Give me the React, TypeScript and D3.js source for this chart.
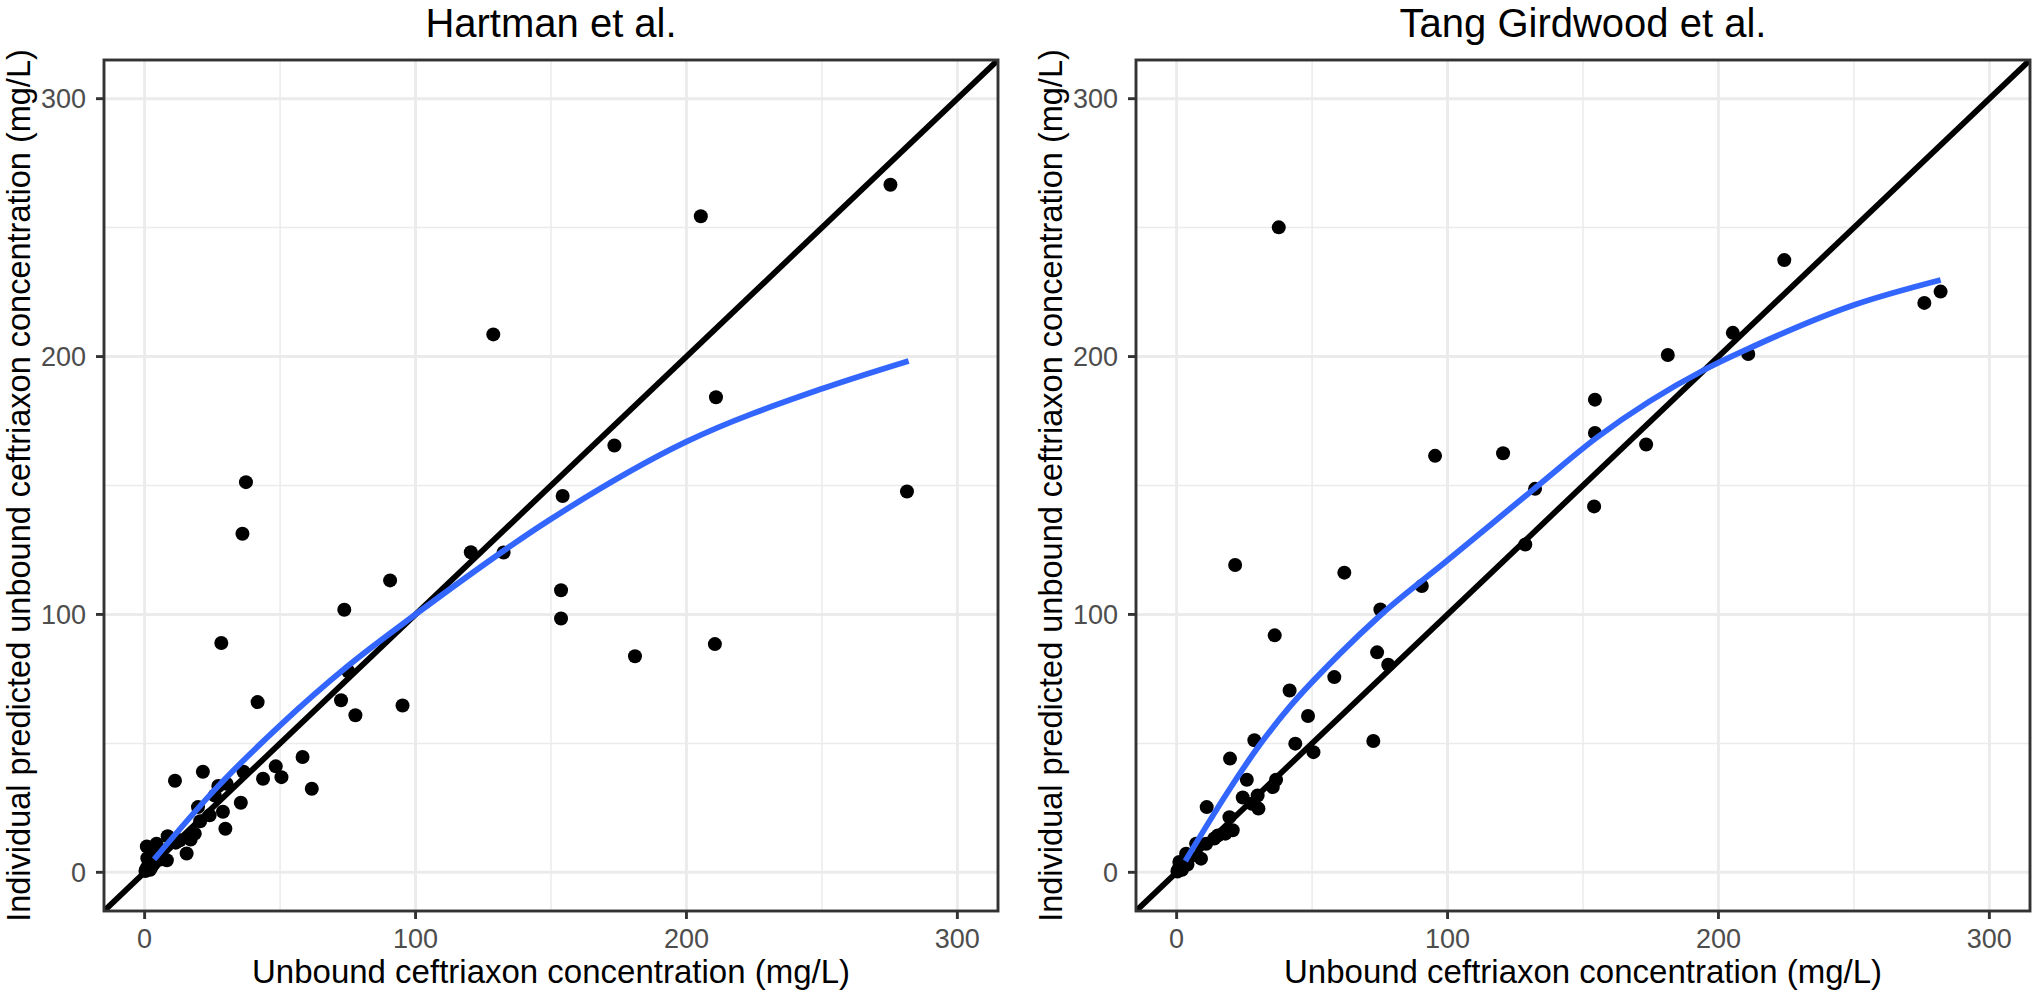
import React from 'react';
import * as d3 from 'd3';

// ---------- data ----------
const majorTicks = [0, 100, 200, 300];
const minorTicks = [50, 150, 250];
const titles = ['Hartman et al.', 'Tang Girdwood et al.'];
const xTitle = 'Unbound ceftriaxon concentration (mg/L)';
const yTitle = 'Individual predicted unbound ceftriaxon concentration (mg/L)';

const hartmanObserved = [
  275.3, 205.3, 128.7, 210.9, 173.4, 281.4, 154.3, 37.4, 36.1, 120.4, 132.5, 90.6, 153.7, 153.7,
  73.7, 75.2, 72.5, 77.8, 28.3, 41.7, 95.2, 181, 210.5,
  11.2, 21.5, 36.5, 43.7, 48.4, 50.5, 58.3, 61.7, 35.5, 29.8, 28.9, 24, 25.9, 27.2, 30.3, 19.7,
  20.5, 18.5, 17, 15.5, 13, 11.5, 8.5, 8.2, 4.4, 0.8, 0.5, 1, 1.5, 2, 2.5, 3, 1, 0.3, 4, 2, 5, 3.5, 6,
];
const hartmanPredicted = [
  266.6, 254.4, 208.6, 184.2, 165.5, 147.7, 145.9, 151.3, 131.3, 124.1, 124, 113.2, 109.4, 98.4,
  101.8, 77.9, 66.7, 60.9, 88.9, 66, 64.7, 83.8, 88.5,
  35.5, 39, 39, 36.3, 41.1, 36.9, 44.7, 32.4, 27, 16.9, 23.5, 22.1, 29.8, 33.5, 34.3, 25.3,
  19.8, 15, 12.7, 7.3, 12.4, 11.5, 14, 4.7, 11.1, 10, 1, 2, 3, 4.5, 2, 6, 5.5, 0.5, 7, 1, 8, 3.5, 5,
];

const tangObserved = [
  37.7, 95.4, 120.5, 132.3, 224.3, 282, 276, 205.3, 211, 181.3, 154.4, 154.4, 173.3, 154.1, 128.7,
  90.5, 21.6, 61.9, 75.2, 36.2, 74, 78.1, 58.2, 41.7, 48.5, 72.6, 43.8, 50.5, 28.7, 19.7, 25.9,
  36.7, 35.5, 29.9, 24.4, 27.8, 30.2, 11.1, 19.5, 20.7, 18, 15.2, 13.9, 10.9, 7.2, 9, 3.5, 1, 0.5,
  2.2, 1, 1.5, 2, 3, 0.3, 5, 4,
];
const tangPredicted = [
  250.1, 161.5, 162.5, 148.7, 237.4, 225.2, 220.8, 209.2, 201, 200.6, 183.3, 170.4, 165.9, 141.9,
  127.1, 111, 119.2, 116.2, 101.9, 91.9, 85.3, 80.5, 75.7, 70.5, 60.6, 50.9, 49.9, 46.6, 51.2,
  44.1, 35.9, 35.9, 33.1, 29.8, 29, 26.6, 24.7, 25.3, 21.4, 16.3, 15, 14.3, 13.1, 11.1, 11.1, 5.3,
  7.2, 4, 0.8, 2.7, 1.5, 3, 1, 4, 0.3, 6, 3,
];

const hartmanSmoothX = [3.5, 25, 50, 75, 100, 150, 200, 250, 282];
const hartmanSmoothY = [5, 31, 57, 80, 100, 137, 167, 187.5, 198.3];
const tangSmoothX = [3.2, 20, 30, 42, 60, 75, 100, 134, 155, 195, 213, 250, 282];
const tangSmoothY = [4.4, 33, 48.5, 64.5, 84.5, 99.5, 121, 150.5, 168.5, 195, 204, 220, 229.7];

// ---------- layout ----------
const W = 2032;
const H = 1001;
const PANEL_W = 894;
const TOP = 60;
const BOTTOM = 911;
const lefts = [104, 1136];
const FONT = "'Liberation Sans', Arial, Helvetica, sans-serif";

type PanelProps = {
  idx: number;
  obs: number[];
  pred: number[];
  sx: number[];
  sy: number[];
};

function Panel({ idx, obs, pred, sx, sy }: PanelProps) {
  const left = lefts[idx];
  const right = left + PANEL_W;
  const x = d3.scaleLinear().domain([-15, 315]).range([left, right]);
  const y = d3.scaleLinear().domain([-15, 315]).range([BOTTOM, TOP]);
  const clipId = `clip-${idx}`;
  const smoothPts: [number, number][] = sx.map((v, i) => [v, sy[i]]);
  const line = d3
    .line<[number, number]>()
    .x((d) => x(d[0]))
    .y((d) => y(d[1]))
    .curve(d3.curveMonotoneX);
  const cx = (left + right) / 2;
  const cy = (TOP + BOTTOM) / 2;
  return (
    <g>
      <defs>
        <clipPath id={clipId}>
          <rect x={left} y={TOP} width={PANEL_W} height={BOTTOM - TOP} />
        </clipPath>
      </defs>
      <rect x={left} y={TOP} width={PANEL_W} height={BOTTOM - TOP} fill="#FFFFFF" />
      <g clipPath={`url(#${clipId})`}>
        {minorTicks.map((t) => (
          <g key={`mn${t}`}>
            <line x1={x(t)} x2={x(t)} y1={TOP} y2={BOTTOM} stroke="#EBEBEB" strokeWidth={1.5} />
            <line x1={left} x2={right} y1={y(t)} y2={y(t)} stroke="#EBEBEB" strokeWidth={1.5} />
          </g>
        ))}
        {majorTicks.map((t) => (
          <g key={`mj${t}`}>
            <line x1={x(t)} x2={x(t)} y1={TOP} y2={BOTTOM} stroke="#EBEBEB" strokeWidth={2.9} />
            <line x1={left} x2={right} y1={y(t)} y2={y(t)} stroke="#EBEBEB" strokeWidth={2.9} />
          </g>
        ))}
        {obs.map((v, i) => (
          <circle key={i} cx={x(v)} cy={y(pred[i])} r={7} fill="#000000" />
        ))}
        <line x1={x(-15)} y1={y(-15)} x2={x(315)} y2={y(315)} stroke="#000000" strokeWidth={5.8} />
        <path d={line(smoothPts) || ''} fill="none" stroke="#3366FF" strokeWidth={5.8} />
      </g>
      <rect x={left} y={TOP} width={PANEL_W} height={BOTTOM - TOP} fill="none" stroke="#333333" strokeWidth={2.9} />
      {majorTicks.map((t) => (
        <g key={`tk${t}`}>
          <line x1={left - 8} x2={left} y1={y(t)} y2={y(t)} stroke="#333333" strokeWidth={2.9} />
          <text x={left - 18} y={y(t)} dy="0.35em" textAnchor="end" fontSize={27} fill="#4D4D4D" fontFamily={FONT}>
            {t}
          </text>
          <line x1={x(t)} x2={x(t)} y1={BOTTOM} y2={BOTTOM + 8} stroke="#333333" strokeWidth={2.9} />
          <text x={x(t)} y={948} textAnchor="middle" fontSize={27} fill="#4D4D4D" fontFamily={FONT}>
            {t}
          </text>
        </g>
      ))}
      <text x={cx} y={36.5} textAnchor="middle" fontSize={40} fill="#000000" fontFamily={FONT}>
        {titles[idx]}
      </text>
      <text x={cx} y={983} textAnchor="middle" fontSize={33} fill="#000000" fontFamily={FONT}>
        {xTitle}
      </text>
      <text
        transform={`translate(${left - 74.5},${cy}) rotate(-90)`}
        textAnchor="middle"
        fontSize={32.5}
        fill="#000000"
        fontFamily={FONT}
      >
        {yTitle}
      </text>
    </g>
  );
}

export default function App() {
  return (
    <svg
      width={W}
      height={H}
      viewBox={`0 0 ${W} ${H}`}
      style={{ position: 'absolute', left: 0, top: 0, background: '#FFFFFF' }}
    >
      <rect x={0} y={0} width={W} height={H} fill="#FFFFFF" />
      <Panel idx={0} obs={hartmanObserved} pred={hartmanPredicted} sx={hartmanSmoothX} sy={hartmanSmoothY} />
      <Panel idx={1} obs={tangObserved} pred={tangPredicted} sx={tangSmoothX} sy={tangSmoothY} />
    </svg>
  );
}
